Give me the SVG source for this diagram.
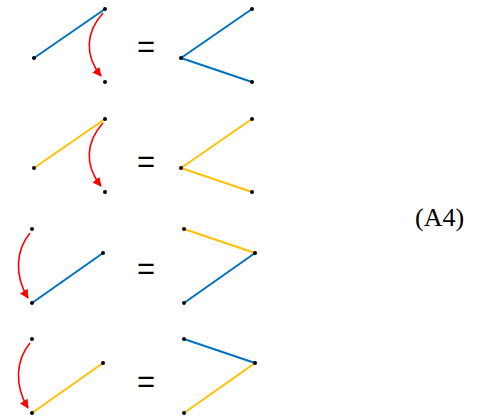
<svg xmlns="http://www.w3.org/2000/svg" width="479" height="419" viewBox="0 0 479 419">
<style>
.b{stroke:#0072BD;stroke-width:2;fill:none}
.y{stroke:#FFC000;stroke-width:2;fill:none}
.r{stroke:#FF0000;stroke-width:1.6;fill:none;marker-end:url(#ah)}
.d{fill:#000}
.eq{font-family:"Liberation Sans",Arial,sans-serif;font-size:31px;text-anchor:middle}
.lab{font-family:"Liberation Serif","Times New Roman",serif;font-size:26px}
</style>
<defs>
<marker id="ah" viewBox="0 0 10 10" refX="9" refY="5" markerWidth="9" markerHeight="9" markerUnits="userSpaceOnUse" orient="auto">
<path d="M0,0 L10,5 L0,10 Z" fill="#FF0000"/>
</marker>
</defs>
<rect width="479" height="419" fill="#fff"/>
<g id="connectors">
<line class="b" x1="34" y1="58" x2="105" y2="9"/>
<path class="r" d="M103,13 C86,32 84,55 101,76"/>
<line class="b" x1="181" y1="58" x2="252" y2="9"/>
<line class="b" x1="181" y1="58" x2="252" y2="82"/>
<line class="y" x1="34" y1="168" x2="105" y2="119"/>
<path class="r" d="M103,123 C86,142 84,165 101,186"/>
<line class="y" x1="181" y1="168" x2="252" y2="119"/>
<line class="y" x1="181" y1="168" x2="252" y2="192"/>
<path class="r" d="M30,233 C16,250 14,275 28,298"/>
<line class="b" x1="32" y1="303" x2="103" y2="253"/>
<line class="y" x1="184" y1="229" x2="255" y2="253"/>
<line class="b" x1="184" y1="303" x2="255" y2="253"/>
<path class="r" d="M30,343 C16,360 14,385 28,408"/>
<line class="y" x1="32" y1="413" x2="103" y2="363"/>
<line class="b" x1="184" y1="339" x2="255" y2="363"/>
<line class="y" x1="184" y1="413" x2="255" y2="363"/>
</g>
<g id="row1">
<circle class="d" cx="34" cy="58" r="2"/><circle class="d" cx="105" cy="9" r="2"/><circle class="d" cx="105" cy="82" r="2"/>
<text class="eq" x="146" y="57">=</text>
<circle class="d" cx="181" cy="58" r="2"/><circle class="d" cx="252" cy="9" r="2"/><circle class="d" cx="252" cy="82" r="2"/>
</g>
<g id="row2">
<circle class="d" cx="34" cy="168" r="2"/><circle class="d" cx="105" cy="119" r="2"/><circle class="d" cx="105" cy="192" r="2"/>
<text class="eq" x="146" y="172">=</text>
<circle class="d" cx="181" cy="168" r="2"/><circle class="d" cx="252" cy="119" r="2"/><circle class="d" cx="252" cy="192" r="2"/>
</g>
<g id="row3">
<circle class="d" cx="32" cy="229" r="2"/><circle class="d" cx="32" cy="303" r="2"/><circle class="d" cx="103" cy="253" r="2"/>
<text class="eq" x="146" y="279">=</text>
<circle class="d" cx="184" cy="229" r="2"/><circle class="d" cx="255" cy="253" r="2"/><circle class="d" cx="184" cy="303" r="2"/>
</g>
<g id="row4">
<circle class="d" cx="32" cy="339" r="2"/><circle class="d" cx="32" cy="413" r="2"/><circle class="d" cx="103" cy="363" r="2"/>
<text class="eq" x="146" y="392">=</text>
<circle class="d" cx="184" cy="339" r="2"/><circle class="d" cx="255" cy="363" r="2"/><circle class="d" cx="184" cy="413" r="2"/>
</g>
<g id="label"><text class="lab" x="415" y="226">(A4)</text></g>
</svg>
